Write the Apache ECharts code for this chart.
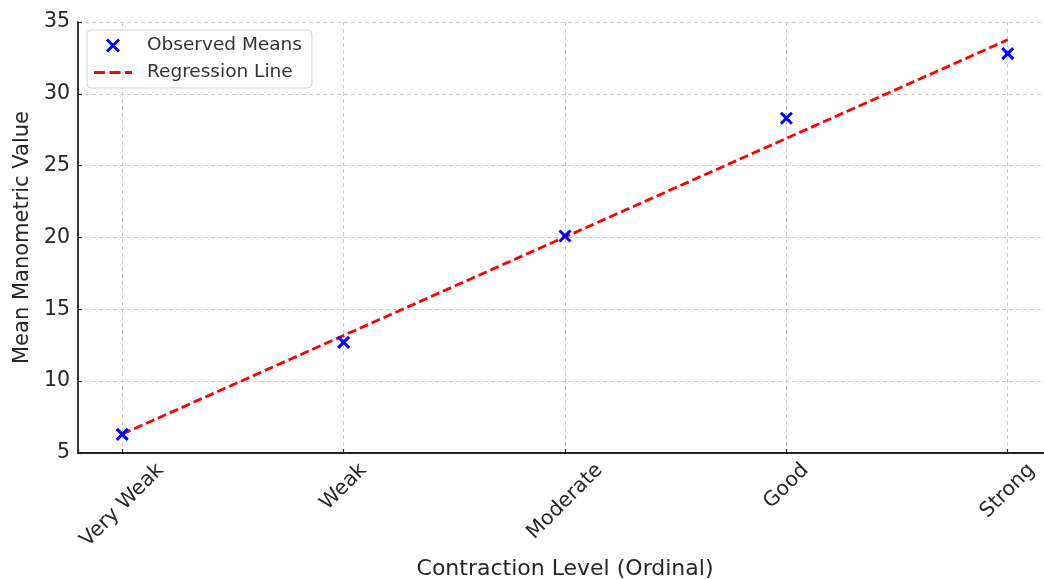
<!DOCTYPE html>
<html>
<head>
<meta charset="utf-8">
<script src="https://cdn.jsdelivr.net/npm/echarts@6/dist/echarts.min.js"></script>
<style>
  html, body { margin: 0; padding: 0; background: #ffffff; }
  #chart { width: 1044px; height: 579px; }
</style>
</head>
<body>
<div id="chart"></div>
<script>
// Ordinal contraction levels and the mean manometric value observed at each
const categories = ['Very Weak', 'Weak', 'Moderate', 'Good', 'Strong'];
const observedMeans = [6.3, 12.7, 20.1, 28.3, 32.8];
// Least-squares line evaluated at each level
const regressionLine = [6.32, 13.18, 20.04, 26.90, 33.76];
const yTickLabels = [5, 10, 15, 20, 25, 30, 35];

const FONT = '"DejaVu Sans", sans-serif';
const TICK_SIZE = 20.5;
const TITLE_SIZE = 22;
const TEXT_COLOR = '#262626';

// Rotated category labels are centred under their tick: pad each label by half
// its own width so the rotated box hangs straight down from the axis.
const measure = document.createElement('canvas').getContext('2d');
measure.font = TICK_SIZE + 'px ' + FONT;
const labelRich = {};
categories.forEach((name, i) => {
  const w = measure.measureText(name).width;
  labelRich['c' + i] = {
    fontFamily: FONT, fontSize: TICK_SIZE, color: TEXT_COLOR,
    padding: [w / 2, w / 2, 0, 0]
  };
});

const scatterPoints = observedMeans.map((v, i) => [i, v]);
const linePoints = regressionLine.map((v, i) => [i, v]);
const crossSymbol = 'path://M0,0L10,10M10,0L0,10';
const dashIcon = 'path://M0,0h11v2.8h-11zM15.5,0h11v2.8h-11zM31,0h7v2.8h-7z';

const chart = echarts.init(document.getElementById('chart'), null, { renderer: 'canvas' });
chart.setOption({
  animation: false,
  backgroundColor: '#ffffff',
  textStyle: { fontFamily: FONT },
  grid: { left: 78, right: -8, top: 22, bottom: 126, containLabel: false, outerBoundsMode: 'none' },
  legend: {
    orient: 'vertical',
    left: 87,
    top: 30,
    padding: [6, 10, 6, 7],
    itemWidth: 38,
    itemHeight: 12,
    itemGap: 8,
    backgroundColor: 'rgba(255,255,255,0.85)',
    borderColor: '#d0d0d0',
    borderWidth: 1,
    borderRadius: 4,
    textStyle: { fontFamily: FONT, fontSize: 18.5, color: '#333333', padding: [0, 0, 0, 10] },
    data: [
      { name: 'Observed Means', icon: crossSymbol,
        itemStyle: { color: '#0000ff', borderColor: '#0000ff', borderWidth: 3 } },
      { name: 'Regression Line', icon: dashIcon,
        itemStyle: { color: '#ff0000', borderWidth: 0 } }
    ]
  },
  xAxis: {
    type: 'value',
    min: -0.2,
    max: 4.2,
    splitNumber: 5,
    name: 'Contraction Level (Ordinal)',
    nameLocation: 'middle',
    nameGap: 103,
    nameTextStyle: { fontFamily: FONT, fontSize: TITLE_SIZE, color: TEXT_COLOR },
    axisLine: { onZero: false, lineStyle: { color: '#222222', width: 1.8 } },
    axisTick: { show: true, inside: true, length: 4, lineStyle: { color: '#222222', width: 1.2 } },
    axisLabel: {
      rotate: 45,
      align: 'center',
      verticalAlign: 'middle',
      margin: 14,
      formatter: v => {
        const i = Math.round(v);
        if (Math.abs(v - i) > 1e-6 || i < 0 || i >= categories.length) return '';
        return '{c' + i + '|' + categories[i] + '}';
      },
      rich: labelRich
    },
    splitLine: { show: true, lineStyle: { color: '#cccccc', type: [4, 3], width: 1 } }
  },
  yAxis: {
    type: 'value',
    min: yTickLabels[0],
    max: yTickLabels[yTickLabels.length - 1],
    interval: yTickLabels[1] - yTickLabels[0],
    name: 'Mean Manometric Value',
    nameLocation: 'middle',
    nameGap: 44,
    nameTextStyle: { fontFamily: FONT, fontSize: TITLE_SIZE - 1, color: TEXT_COLOR },
    axisLine: { show: true, onZero: false, lineStyle: { color: '#222222', width: 1.8 } },
    axisTick: { show: true, inside: true, length: 4, lineStyle: { color: '#222222', width: 1.2 } },
    axisLabel: { fontFamily: FONT, fontSize: TICK_SIZE, color: TEXT_COLOR, margin: 8 },
    splitLine: { show: true, lineStyle: { color: '#cccccc', type: [4, 3], width: 1 } }
  },
  series: [
    {
      name: 'Regression Line',
      type: 'line',
      data: linePoints,
      symbol: 'none',
      z: 2,
      lineStyle: { color: '#ff0000', width: 2.8, type: [9, 4] },
      itemStyle: { color: '#ff0000' }
    },
    {
      name: 'Observed Means',
      type: 'scatter',
      data: scatterPoints,
      symbol: crossSymbol,
      symbolSize: 11,
      z: 3,
      itemStyle: { color: '#0000ff', borderColor: '#0000ff', borderWidth: 3, opacity: 1 }
    }
  ]
});
</script>
</body>
</html>
